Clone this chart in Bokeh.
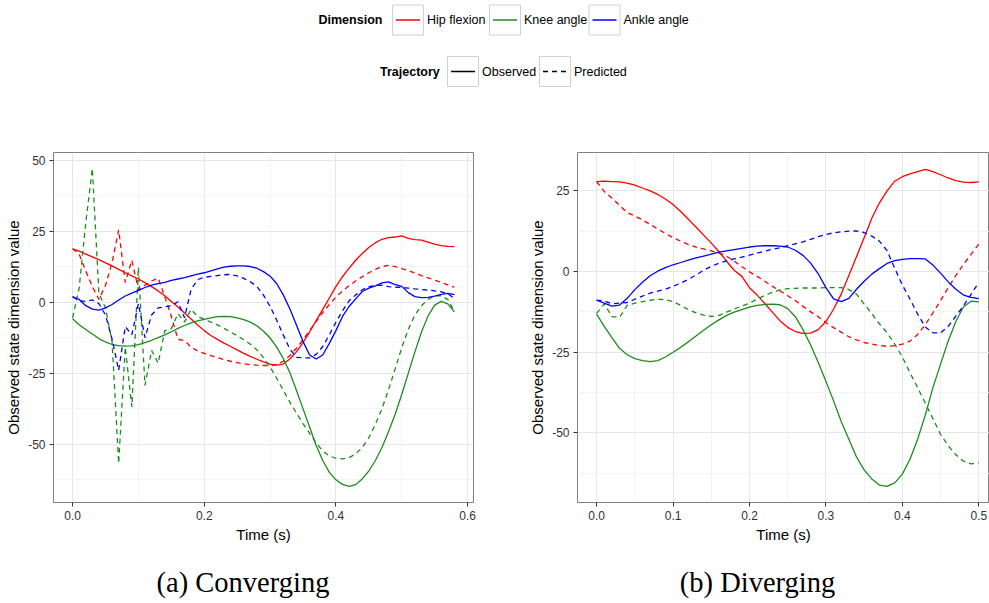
from bokeh.plotting import figure
from bokeh.layouts import column, row
from bokeh.models import Range1d, FixedTicker, NumeralTickFormatter
from bokeh.core.properties import value
from bokeh.embed import file_html
from bokeh.resources import INLINE

SANS = "Liberation Sans"
SERIF = "Liberation Serif"

# ---------------------------------------------------------------- data
dimensions = ["Hip flexion", "Knee angle", "Ankle angle"]
dim_colors = ["#ff0000", "#1c8c1c", "#0000ff"]
trajectories = ["Observed", "Predicted"]
traj_dash = ["solid", "5 4"]

# (a) Converging, sampled every 10 ms
t_conv = [0.00, 0.01, 0.02, 0.03, 0.04, 0.05, 0.06, 0.07, 0.08, 0.09,
          0.10, 0.11, 0.12, 0.13, 0.14, 0.15, 0.16, 0.17, 0.18, 0.19,
          0.20, 0.21, 0.22, 0.23, 0.24, 0.25, 0.26, 0.27, 0.28, 0.29,
          0.30, 0.31, 0.32, 0.33, 0.34, 0.35, 0.36, 0.37, 0.38, 0.39,
          0.40, 0.41, 0.42, 0.43, 0.44, 0.45, 0.46, 0.47, 0.48, 0.49,
          0.50, 0.51, 0.52, 0.53, 0.54, 0.55, 0.56, 0.57, 0.58]

hip_obs_conv = [18.8, 18.0, 17.0, 16.0, 15.0, 13.9, 12.8, 11.6, 10.4, 9.3,
                8.2, 6.9, 5.5, 4.0, 2.3, 0.3, -1.7, -3.8, -5.9, -8.0,
                -10.0, -11.7, -13.1, -14.4, -15.6, -16.8, -18.0, -19.1, -20.1, -21.0,
                -21.8, -22.2, -21.8, -20.0, -17.5, -14.2, -10.5, -6.5, -2.5, 1.5,
                5.5, 9.0, 12.0, 14.8, 17.2, 19.3, 21.0, 22.2, 22.8, 23.0,
                23.4, 22.5, 22.1, 21.9, 21.2, 20.5, 20.0, 19.7, 19.6]
hip_pred_conv = [18.9, 17.0, 11.0, 5.5, 1.0, 6.0, 14.0, 25.5, 7.0, 14.8,
                 4.5, 6.0, 7.5, 8.5, 2.0, -5.0, -13.0, -13.5, -15.8, -17.2,
                 -18.0, -18.8, -19.5, -20.2, -20.8, -21.3, -21.7, -22.0, -22.2, -22.3,
                 -22.3, -22.0, -20.8, -18.8, -16.2, -13.2, -10.0, -6.8, -3.6, -0.8,
                 1.8, 4.0, 5.8, 7.5, 9.0, 10.4, 11.6, 12.6, 13.0, 12.6,
                 11.9, 11.2, 10.3, 9.4, 8.6, 7.8, 7.0, 6.1, 5.3]
knee_obs_conv = [-5.8, -7.9, -9.6, -11.2, -12.8, -14.0, -14.9, -15.3, -15.5, -15.4,
                 -14.9, -14.2, -13.4, -12.5, -11.5, -10.4, -9.2, -8.2, -7.3, -6.6,
                 -6.0, -5.5, -5.1, -5.0, -5.1, -5.5, -6.1, -7.0, -8.3, -10.2,
                 -12.6, -15.8, -19.8, -24.8, -31.0, -37.5, -44.0, -50.5, -55.8, -60.0,
                 -62.6, -64.2, -64.9, -64.3, -62.3, -59.5, -55.8, -51.2, -45.6, -39.5,
                 -32.5, -25.0, -17.5, -10.5, -4.8, -1.0, 0.3, -0.6, -3.4]
knee_pred_conv = [-5.5, 5.0, 28.0, 47.2, 3.0, -2.0, -14.0, -56.8, -15.8, -36.9,
                  12.3, -29.3, -17.0, -21.5, -10.0, -9.3, -4.0, -7.0, -2.5, -5.0,
                  -6.0, -7.0, -8.0, -9.2, -10.5, -11.8, -13.2, -14.8, -16.8, -19.5,
                  -22.8, -26.8, -31.0, -35.2, -39.0, -42.8, -46.2, -49.6, -52.4, -54.2,
                  -55.0, -55.2, -54.8, -53.5, -51.2, -47.8, -43.0, -37.5, -30.8, -23.5,
                  -16.0, -9.5, -4.5, -1.2, 1.0, 2.2, 2.3, 1.0, -3.2]
ankle_obs_conv = [1.9, 1.0, -1.2, -2.4, -2.8, -2.0, -0.8, 0.8, 2.2, 3.2,
                  4.2, 5.2, 6.0, 6.6, 7.0, 7.7, 8.2, 8.7, 9.3, 9.9,
                  10.4, 11.1, 11.8, 12.4, 12.7, 12.8, 12.8, 12.6, 12.0, 10.8,
                  9.2, 6.6, 2.6, -2.3, -8.0, -13.8, -18.6, -20.0, -18.6, -14.5,
                  -10.0, -5.0, -1.5, 1.2, 3.8, 5.0, 5.8, 6.8, 7.2, 6.2,
                  5.6, 3.4, 2.0, 1.6, 1.7, 2.2, 2.8, 3.1, 2.7]
ankle_pred_conv = [2.0, 0.5, 0.3, 0.8, -0.5, -4.5, -13.0, -24.0, -8.6, -11.5,
                   -0.5, -12.5, -4.5, -2.0, -1.6, -1.2, 0.2, -5.5, 4.5, 8.0,
                   8.8, 9.1, 9.4, 9.7, 9.8, 9.3, 8.4, 7.2, 5.6, 2.5,
                   -1.5, -6.3, -11.5, -16.5, -19.4, -19.6, -19.6, -18.4, -15.6, -11.5,
                   -7.0, -3.0, 0.5, 2.6, 4.4, 5.5, 5.9, 6.0, 5.5, 5.3,
                   5.2, 5.0, 4.7, 4.5, 4.3, 4.0, 3.7, 3.0, 1.3]

# (b) Diverging, sampled every 10 ms
t_div = [0.00, 0.01, 0.02, 0.03, 0.04, 0.05, 0.06, 0.07, 0.08, 0.09,
         0.10, 0.11, 0.12, 0.13, 0.14, 0.15, 0.16, 0.17, 0.18, 0.19,
         0.20, 0.21, 0.22, 0.23, 0.24, 0.25, 0.26, 0.27, 0.28, 0.29,
         0.30, 0.31, 0.32, 0.33, 0.34, 0.35, 0.36, 0.37, 0.38, 0.39,
         0.40, 0.41, 0.42, 0.43, 0.44, 0.45, 0.46, 0.47, 0.48, 0.49, 0.50]

hip_obs_div = [27.9, 28.0, 27.9, 27.8, 27.4, 26.8, 25.9, 25.0, 23.9, 22.5,
               20.8, 18.6, 16.2, 13.8, 11.3, 8.8, 6.2, 3.2, 0.4, -1.5,
               -5.0, -7.3, -9.9, -12.6, -15.3, -17.3, -18.6, -19.2, -19.1, -18.0,
               -15.5, -11.7, -7.0, -1.2, 4.6, 10.5, 16.5, 21.3, 25.0, 28.0,
               29.4, 30.3, 31.0, 31.7, 31.0, 30.0, 29.0, 28.2, 27.7, 27.6, 27.8]
hip_pred_div = [27.9, 24.8, 22.8, 20.5, 18.3, 17.2, 16.0, 14.6, 13.2, 11.8,
                10.5, 9.4, 8.4, 7.6, 7.0, 6.4, 5.7, 4.8, 3.2, 1.5,
                -0.1, -1.5, -3.0, -4.6, -6.0, -7.5, -9.0, -10.8, -12.5, -14.0,
                -15.8, -17.4, -18.8, -20.2, -21.2, -22.0, -22.5, -22.9, -23.2, -23.0,
                -22.5, -21.6, -19.5, -16.5, -12.8, -9.0, -5.0, -1.2, 2.2, 5.4, 8.5]
knee_obs_div = [-13.2, -17.0, -20.5, -23.8, -25.8, -27.0, -27.6, -27.9, -27.6, -26.5,
                -25.0, -23.5, -21.8, -20.0, -18.2, -16.5, -15.0, -13.6, -12.6, -11.8,
                -11.0, -10.5, -10.2, -10.1, -10.3, -11.5, -14.0, -18.0, -22.8, -28.2,
                -34.0, -40.1, -46.5, -52.0, -57.5, -61.5, -64.3, -66.2, -66.6, -65.5,
                -62.8, -58.2, -52.0, -44.5, -36.0, -28.7, -21.5, -15.5, -10.9, -9.2, -9.4]
knee_pred_div = [-13.0, -10.0, -14.0, -14.2, -10.5, -9.8, -9.3, -8.9, -8.6, -8.7,
                 -9.3, -10.5, -11.8, -12.8, -13.5, -13.9, -13.6, -12.6, -11.6, -10.7,
                 -9.8, -8.6, -7.4, -6.4, -5.7, -5.3, -5.2, -5.1, -5.1, -5.1,
                 -5.0, -5.0, -5.0, -5.6, -7.0, -10.1, -13.0, -16.2, -19.0, -22.5,
                 -26.5, -31.4, -36.0, -40.8, -45.6, -50.5, -54.0, -56.8, -58.8, -59.6, -59.3]
ankle_obs_div = [-8.9, -9.8, -10.7, -10.4, -8.3, -5.6, -3.3, -1.3, 0.1, 1.2,
                 2.1, 2.8, 3.5, 4.2, 4.8, 5.4, 6.0, 6.4, 6.8, 7.2,
                 7.6, 7.9, 8.0, 8.0, 7.9, 7.6, 6.6, 5.0, 2.6, -0.7,
                 -5.0, -8.5, -9.3, -8.3, -5.5, -3.0, -0.8, 0.9, 2.5, 3.4,
                 3.8, 4.0, 4.0, 3.9, 2.0, -0.5, -3.2, -5.5, -7.3, -8.0, -8.4]
ankle_pred_div = [-8.9, -9.1, -10.0, -9.8, -9.6, -8.6, -7.6, -6.7, -6.1, -5.5,
                  -4.6, -3.6, -2.4, -1.1, 0.4, 1.6, 2.6, 3.3, 3.9, 4.5,
                  5.1, 5.7, 6.3, 6.9, 7.4, 8.0, 8.6, 9.2, 10.0, 10.8,
                  11.5, 12.0, 12.3, 12.5, 12.6, 12.1, 11.0, 9.4, 6.5, 1.0,
                  -4.2, -8.5, -13.2, -17.2, -19.0, -19.0, -17.0, -13.8, -10.6, -7.0, -3.4]

# axis ticks
x_ticks_conv = [0.0, 0.2, 0.4, 0.6]
x_minor_conv = [0.1, 0.3, 0.5]
y_ticks_conv = [-50, -25, 0, 25, 50]
y_minor_conv = [-62.5, -37.5, -12.5, 12.5, 37.5]
x_ticks_div = [0.0, 0.1, 0.2, 0.3, 0.4, 0.5]
x_minor_div = [0.05, 0.15, 0.25, 0.35, 0.45]
y_ticks_div = [-50, -25, 0, 25]
y_minor_div = [-62.5, -37.5, -12.5, 12.5]

captions = ["(a) Converging", "(b) Diverging"]
x_title = "Time (s)"
y_title = "Observed state dimension value"


# ---------------------------------------------------------------- panels
def style_panel(p, xt, xm, yt, ym):
    p.outline_line_color = "#7f7f7f"
    p.outline_line_width = 1
    p.xaxis.ticker = FixedTicker(ticks=xt, minor_ticks=xm)
    p.yaxis.ticker = FixedTicker(ticks=yt, minor_ticks=ym)
    p.xaxis.formatter = NumeralTickFormatter(format="0.0")
    p.yaxis.formatter = NumeralTickFormatter(format="0")
    p.xaxis.axis_label = x_title
    p.yaxis.axis_label = y_title
    for ax in p.axis:
        ax.axis_line_color = None
        ax.major_tick_in = 0
        ax.major_tick_out = 4
        ax.major_tick_line_color = "#333333"
        ax.minor_tick_line_color = None
        ax.major_label_text_font = SANS
        ax.major_label_text_font_size = "12px"
        ax.major_label_text_color = "#333333"
        ax.major_label_standoff = 4
        ax.axis_label_text_font = SANS
        ax.axis_label_text_font_size = "15px"
        ax.axis_label_text_font_style = "normal"
        ax.axis_label_text_color = "black"
        ax.axis_label_standoff = 3
    p.grid.grid_line_color = "#e6e6e6"
    p.grid.grid_line_width = 1
    p.grid.minor_grid_line_color = "#f3f3f3"


def draw_series(p, t, obs, pred):
    for vals_o, vals_p, col in zip(obs, pred, dim_colors):
        p.line(t, vals_o, line_color=col, line_width=1.3, line_dash=traj_dash[0])
        p.line(t, vals_p, line_color=col, line_width=1.3, line_dash=traj_dash[1])


p1 = figure(width=500, height=420, output_backend="svg", toolbar_location=None,
            x_range=Range1d(-0.029, 0.609), y_range=Range1d(-70.6, 52.8),
            min_border_left=53, min_border_right=27, min_border_top=22, min_border_bottom=48)
style_panel(p1, x_ticks_conv, x_minor_conv, y_ticks_conv, y_minor_conv)
draw_series(p1, t_conv,
            [hip_obs_conv, knee_obs_conv, ankle_obs_conv],
            [hip_pred_conv, knee_pred_conv, ankle_pred_conv])

p2 = figure(width=489, height=420, output_backend="svg", toolbar_location=None,
            x_range=Range1d(-0.025, 0.514), y_range=Range1d(-71.6, 36.9),
            min_border_left=77, min_border_right=0, min_border_top=22, min_border_bottom=48)
style_panel(p2, x_ticks_div, x_minor_div, y_ticks_div, y_minor_div)
draw_series(p2, t_div,
            [hip_obs_div, knee_obs_div, ankle_obs_div],
            [hip_pred_div, knee_pred_div, ankle_pred_div])

# ---------------------------------------------------------------- legend strip
leg = figure(width=989, height=130, output_backend="svg", toolbar_location=None,
             x_range=Range1d(0, 989), y_range=Range1d(130, 0),
             x_axis_location=None, y_axis_location=None, min_border=0)
leg.grid.visible = False
leg.outline_line_color = None

LEG_FS = "12.5px"
key_w, key_h = 31, 30

# first row: colour of each dimension
row1_y = 19.5
leg.text(x=[318], y=[row1_y], text=["Dimension"], text_font=value(SANS),
         text_font_size=LEG_FS, text_font_style="bold", text_baseline="middle",
         text_align="left", text_color="black")
key_left_1 = [392, 489, 588.5]
leg.quad(left=key_left_1, right=[k + key_w for k in key_left_1],
         top=[row1_y - key_h / 2] * 3, bottom=[row1_y + key_h / 2] * 3,
         fill_color="white", line_color="#d0d0d0", line_width=1)
leg.segment(x0=[k + 3.5 for k in key_left_1], x1=[k + 27.5 for k in key_left_1],
            y0=[row1_y] * 3, y1=[row1_y] * 3, line_color=dim_colors, line_width=1.3)
leg.text(x=[k + key_w + 3.5 for k in key_left_1], y=[row1_y] * 3, text=dimensions,
         text_font=value(SANS), text_font_size=LEG_FS, text_baseline="middle",
         text_align="left", text_color="black")

# second row: line style of each trajectory
row2_y = 71
leg.text(x=[379.5], y=[row2_y], text=["Trajectory"], text_font=value(SANS),
         text_font_size=LEG_FS, text_font_style="bold", text_baseline="middle",
         text_align="left", text_color="black")
key_left_2 = [447, 539]
leg.quad(left=key_left_2, right=[k + key_w for k in key_left_2],
         top=[row2_y - key_h / 2] * 2, bottom=[row2_y + key_h / 2] * 2,
         fill_color="white", line_color="#d0d0d0", line_width=1)
for k, dash in zip(key_left_2, traj_dash):
    leg.line(x=[k + 3.5, k + 27.5], y=[row2_y, row2_y], line_color="black",
             line_width=1.3, line_dash=dash)
leg.text(x=[k + key_w + 3.5 for k in key_left_2], y=[row2_y] * 2, text=trajectories,
         text_font=value(SANS), text_font_size=LEG_FS, text_baseline="middle",
         text_align="left", text_color="black")

# ---------------------------------------------------------------- captions
cap = figure(width=989, height=53, output_backend="svg", toolbar_location=None,
             x_range=Range1d(0, 989), y_range=Range1d(53, 0),
             x_axis_location=None, y_axis_location=None, min_border=0)
cap.grid.visible = False
cap.outline_line_color = None
cap.text(x=[242.5, 757], y=[32, 32], text=captions, text_font=value(SERIF),
         text_font_size="28.5px", text_align="center", text_baseline="middle",
         text_color="black")

layout = column(leg, row(p1, p2), cap)
open("out.html", "w").write(file_html(layout, INLINE))
